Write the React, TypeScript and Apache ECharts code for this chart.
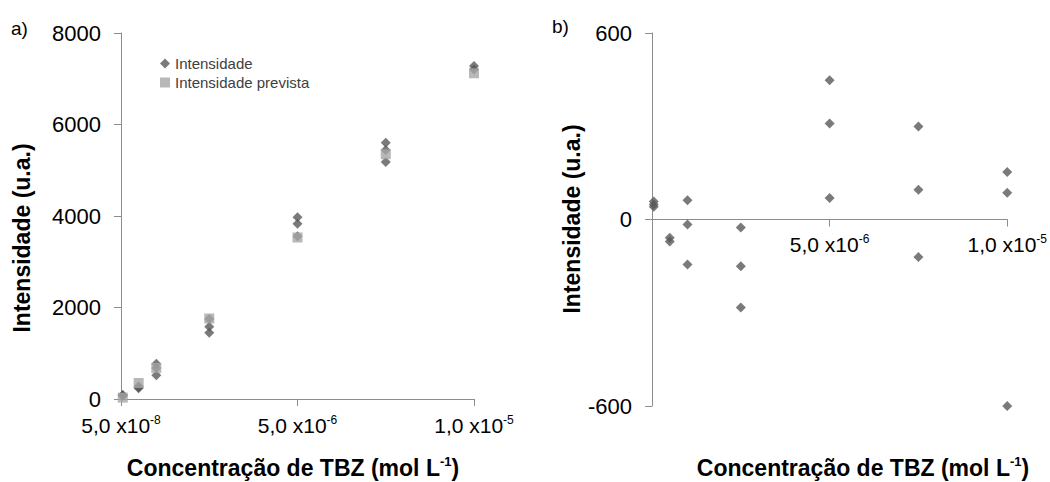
import React, { useEffect, useRef } from 'react';
import * as echarts from 'echarts';

// ---- Data ----
// Panel a) observed intensities (replicates per concentration)
const obsConc = [
  5e-8, 5e-8, 5e-8,
  5e-7, 5e-7, 5e-7,
  1e-6, 1e-6, 1e-6,
  2.5e-6, 2.5e-6, 2.5e-6,
  5e-6, 5e-6, 5e-6,
  7.5e-6, 7.5e-6, 7.5e-6,
  1e-5, 1e-5,
];
const obsIntensity = [
  80, 90, 70,
  280, 250, 235,
  770, 680, 520,
  1750, 1580, 1450,
  3970, 3830, 3560,
  5600, 5440, 5180,
  7280, 7200,
];
// Panel a) predicted intensities
const predConc = [5e-8, 5e-7, 1e-6, 2.5e-6, 5e-6, 7.5e-6, 1e-5];
const predIntensity = [30, 350, 680, 1760, 3530, 5350, 7120];

// Panel b) residuals
const resConc = [
  5e-8, 5e-8, 5e-8,
  5e-7, 5e-7,
  1e-6, 1e-6, 1e-6,
  2.5e-6, 2.5e-6, 2.5e-6,
  5e-6, 5e-6, 5e-6,
  7.5e-6, 7.5e-6, 7.5e-6,
  1e-5, 1e-5, 1e-5,
];
const residuals = [
  48, 58, 41,
  -59, -71,
  62, -16, -145,
  -26, -150, -283,
  448, 309, 69,
  299, 96, -121,
  153, 86, -600,
];

// Axis ranges and tick labels
const xRange = [0, 1e-5, 5e-6];
const leftYRange = [0, 8000, 2000];
const rightYRange = [-600, 600, 600];
const xTickValues = [0, 5e-6, 1e-5];
const leftXTickLabels: ([string, string] | null)[] = [
  ['5,0 x10', '-8'],
  ['5,0 x10', '-6'],
  ['1,0 x10', '-5'],
];
const rightXTickLabels: ([string, string] | null)[] = [
  null,
  ['5,0 x10', '-6'],
  ['1,0 x10', '-5'],
];

const seriesNames = ['Intensidade', 'Intensidade prevista'];
const yTitle = 'Intensidade (u.a.)';
const xTitleMain = 'Concentração de TBZ (mol L';
const xTitleSup = '-1';

const FONT = 'Liberation Sans, Arial, sans-serif';
const AXIS_GRAY = '#8c8c8c';
const DARK = '#595959';
const LIGHT = '#a6a6a6';

const RIGHT_GRID = { left: 652, top: 33, width: 359, height: 373 };

function makeXFormatter(labels: ([string, string] | null)[]) {
  return (v: number) => {
    const i = xTickValues.findIndex((t) => Math.abs(t - v) < 1e-9);
    if (i < 0 || !labels[i]) return '';
    const [m, s] = labels[i] as [string, string];
    return `{n|${m}}{s|${s}}`;
  };
}

const tickRich = {
  n: { fontSize: 21, fontFamily: FONT, color: '#000', lineHeight: 22, padding: [8, 0, 0, 0], verticalAlign: 'bottom' },
  s: { fontSize: 12, fontFamily: FONT, color: '#000', lineHeight: 12, verticalAlign: 'top' },
};

const titleRich = {
  b: { fontSize: 23, fontWeight: 'bold', fontFamily: FONT, color: '#000', lineHeight: 25, padding: [8, 0, 0, 0], verticalAlign: 'bottom' },
  s: { fontSize: 13, fontWeight: 'bold', fontFamily: FONT, color: '#000', lineHeight: 13, verticalAlign: 'top' },
};

export default function App() {
  const ref = useRef<HTMLDivElement>(null);
  useEffect(() => {
    if (!ref.current) return;
    const chart = echarts.init(ref.current, undefined, { renderer: 'svg' });
    const commonAxisLine = { show: true, lineStyle: { color: AXIS_GRAY, width: 1 } };
    const commonTick = { show: true, length: 7, lineStyle: { color: AXIS_GRAY, width: 1 } };
    // place the residual plot's x axis at y = 0 (labels included)
    const zeroOffset = -RIGHT_GRID.height * (0 - rightYRange[0]) / (rightYRange[1] - rightYRange[0]);
    chart.setOption({
      animation: false,
      backgroundColor: '#fff',
      grid: [
        { left: 121, top: 33, width: 353, height: 366 },
        RIGHT_GRID,
      ],
      legend: {
        data: seriesNames,
        orient: 'vertical',
        left: 155,
        top: 51,
        itemWidth: 10,
        itemHeight: 10,
        itemGap: 4,
        textStyle: { fontSize: 15, color: '#404040', fontFamily: FONT },
      },
      xAxis: [
        {
          gridIndex: 0,
          type: 'value',
          min: xRange[0],
          max: xRange[1],
          interval: xRange[2],
          splitLine: { show: false },
          axisLine: { ...commonAxisLine, onZero: false },
          axisTick: commonTick,
          axisLabel: { margin: 15, formatter: makeXFormatter(leftXTickLabels), rich: tickRich, showMinLabel: true, showMaxLabel: true },
        },
        {
          gridIndex: 1,
          type: 'value',
          min: xRange[0],
          max: xRange[1],
          interval: xRange[2],
          offset: zeroOffset,
          splitLine: { show: false },
          axisLine: { ...commonAxisLine, onZero: false },
          axisTick: commonTick,
          axisLabel: { margin: 13, formatter: makeXFormatter(rightXTickLabels), rich: tickRich, showMinLabel: true, showMaxLabel: true },
        },
      ],
      yAxis: [
        {
          gridIndex: 0,
          type: 'value',
          min: leftYRange[0],
          max: leftYRange[1],
          interval: leftYRange[2],
          splitLine: { show: false },
          axisLine: commonAxisLine,
          axisTick: commonTick,
          axisLabel: { margin: 20, fontSize: 22, color: '#000', fontFamily: FONT, formatter: (v: number) => String(v) },
        },
        {
          gridIndex: 1,
          type: 'value',
          min: rightYRange[0],
          max: rightYRange[1],
          interval: rightYRange[2],
          splitLine: { show: false },
          axisLine: { ...commonAxisLine, onZero: false },
          axisTick: commonTick,
          axisLabel: { margin: 20, fontSize: 22, color: '#000', fontFamily: FONT, formatter: (v: number) => String(v) },
        },
      ],
      series: [
        {
          name: seriesNames[0],
          type: 'scatter',
          xAxisIndex: 0,
          yAxisIndex: 0,
          symbol: 'diamond',
          symbolSize: 10,
          itemStyle: { color: DARK },
          data: obsConc.map((c, i) => [c, obsIntensity[i]]),
        },
        {
          name: seriesNames[1],
          type: 'scatter',
          xAxisIndex: 0,
          yAxisIndex: 0,
          symbol: 'rect',
          symbolSize: 10,
          itemStyle: { color: LIGHT },
          data: predConc.map((c, i) => [c, predIntensity[i]]),
        },
        {
          name: 'Resíduos',
          type: 'scatter',
          xAxisIndex: 1,
          yAxisIndex: 1,
          symbol: 'diamond',
          symbolSize: 10,
          itemStyle: { color: DARK },
          data: resConc.map((c, i) => [c, residuals[i]]),
        },
      ],
      graphic: [
        { type: 'text', left: 11, top: 19, style: { text: 'a)', fontSize: 19, fontFamily: FONT, fill: '#000' } },
        { type: 'text', left: 552, top: 17, style: { text: 'b)', fontSize: 19, fontFamily: FONT, fill: '#000' } },
        {
          type: 'text', x: 22, y: 238, rotation: Math.PI / 2,
          style: { text: yTitle, fontSize: 23, fontWeight: 'bold', fontFamily: FONT, fill: '#000', align: 'center', verticalAlign: 'middle' },
        },
        {
          type: 'text', x: 572, y: 219, rotation: Math.PI / 2,
          style: { text: yTitle, fontSize: 23, fontWeight: 'bold', fontFamily: FONT, fill: '#000', align: 'center', verticalAlign: 'middle' },
        },
        {
          type: 'text', x: 293, y: 467,
          style: { text: `{b|${xTitleMain}}{s|${xTitleSup}}{b|)}`, rich: titleRich, align: 'center', verticalAlign: 'middle' },
        },
        {
          type: 'text', x: 863, y: 467,
          style: { text: `{b|${xTitleMain}}{s|${xTitleSup}}{b|)}`, rich: titleRich, align: 'center', verticalAlign: 'middle' },
        },
      ],
    });
    return () => chart.dispose();
  }, []);
  return (
    <div
      ref={ref}
      style={{ position: 'fixed', left: 0, top: 0, width: 1050, height: 482, background: '#fff' }}
    />
  );
}
